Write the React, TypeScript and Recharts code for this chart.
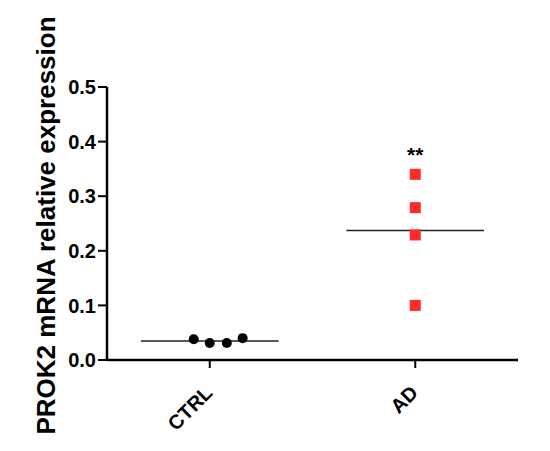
import React from "react";
import { ScatterChart, Scatter, XAxis, YAxis, ReferenceLine } from "recharts";

const categories = ["CTRL", "AD"];
const ctrlValues = [0.038, 0.031, 0.031, 0.040];
const ctrlOffsets = [-0.078, 0, 0.083, 0.16];
const adValues = [0.34, 0.279, 0.229, 0.1];
const adOffsets = [0, 0, 0, 0];
const yTicks = [0, 0.1, 0.2, 0.3, 0.4, 0.5];
const significance = "**";

const ctrlData = ctrlValues.map((v, i) => ({ x: 1 + ctrlOffsets[i], y: v }));
const adData = adValues.map((v, i) => ({ x: 2 + adOffsets[i], y: v }));
const mean = (a: number[]) => a.reduce((s, v) => s + v, 0) / a.length;
const HALF = 0.335;
const FONT = "'Liberation Sans', Arial, Helvetica, sans-serif";

const Circle = (props: any) => <circle cx={props.cx} cy={props.cy} r={5} fill="#000" />;
const Square = (props: any) => (
  <rect x={props.cx - 5.5} y={props.cy - 5.5} width={11} height={11} fill="#FF2B2B" />
);

const XTick = (props: any) => {
  const { x, y, payload } = props;
  const ax = x + 4;
  const ay = y + 24;
  return (
    <text
      x={ax}
      y={ay}
      transform={`rotate(-45, ${ax}, ${ay})`}
      textAnchor="end"
      fontSize={20}
      fontWeight="bold"
      fontFamily={FONT}
      fill="#000"
    >
      {categories[payload.value - 1]}
    </text>
  );
};

const SigLabel = (props: any) => {
  const { viewBox } = props;
  return (
    <text
      x={viewBox.x}
      y={viewBox.y - 12}
      textAnchor="middle"
      fontSize={21}
      fontWeight="bold"
      fontFamily={FONT}
      fill="#000"
    >
      {significance}
    </text>
  );
};

export default function App() {
  return (
    <div style={{ position: "absolute", left: 0, top: 0, background: "#fff" }}>
      <ScatterChart
        width={550}
        height={451}
        margin={{ top: 87, right: 32, bottom: 0, left: 0 }}
      >
        <XAxis
          type="number"
          dataKey="x"
          domain={[0.5, 2.5]}
          ticks={[1, 2]}
          allowDataOverflow
          axisLine={{ stroke: "#000", strokeWidth: 2.5 }}
          tickLine={{ stroke: "#000", strokeWidth: 2 }}
          tickSize={8}
          tick={<XTick />}
          height={91}
        />
        <YAxis
          type="number"
          dataKey="y"
          domain={[0, 0.5]}
          ticks={yTicks}
          width={107}
          axisLine={{ stroke: "#000", strokeWidth: 2.5 }}
          tickLine={{ stroke: "#000", strokeWidth: 2 }}
          tickSize={9}
          tickMargin={2}
          tickFormatter={(v: number) => v.toFixed(1)}
          tick={{ fontSize: 20, fontWeight: "bold", fill: "#000", fontFamily: FONT }}
          label={{
            value: "PROK2 mRNA relative expression",
            angle: -90,
            position: "center",
            dx: -8,
            dy: 2,
            style: { fontSize: 26, fontWeight: "bold", fill: "#000", fontFamily: FONT, textAnchor: "middle" },
          }}
        />
        <ReferenceLine
          segment={[
            { x: 1 - HALF, y: mean(ctrlValues) },
            { x: 1 + HALF, y: mean(ctrlValues) },
          ]}
          stroke="#222"
          strokeWidth={1.5}
        />
        <ReferenceLine
          segment={[
            { x: 2 - HALF, y: mean(adValues) },
            { x: 2 + HALF, y: mean(adValues) },
          ]}
          stroke="#222"
          strokeWidth={1.5}
        />
        <Scatter data={ctrlData} shape={<Circle />} isAnimationActive={false} />
        <Scatter data={adData} shape={<Square />} isAnimationActive={false} />
        <ReferenceLine
          segment={[
            { x: 2, y: Math.max(...adValues) },
            { x: 2, y: Math.max(...adValues) },
          ]}
          stroke="none"
          label={<SigLabel />}
        />
      </ScatterChart>
    </div>
  );
}
